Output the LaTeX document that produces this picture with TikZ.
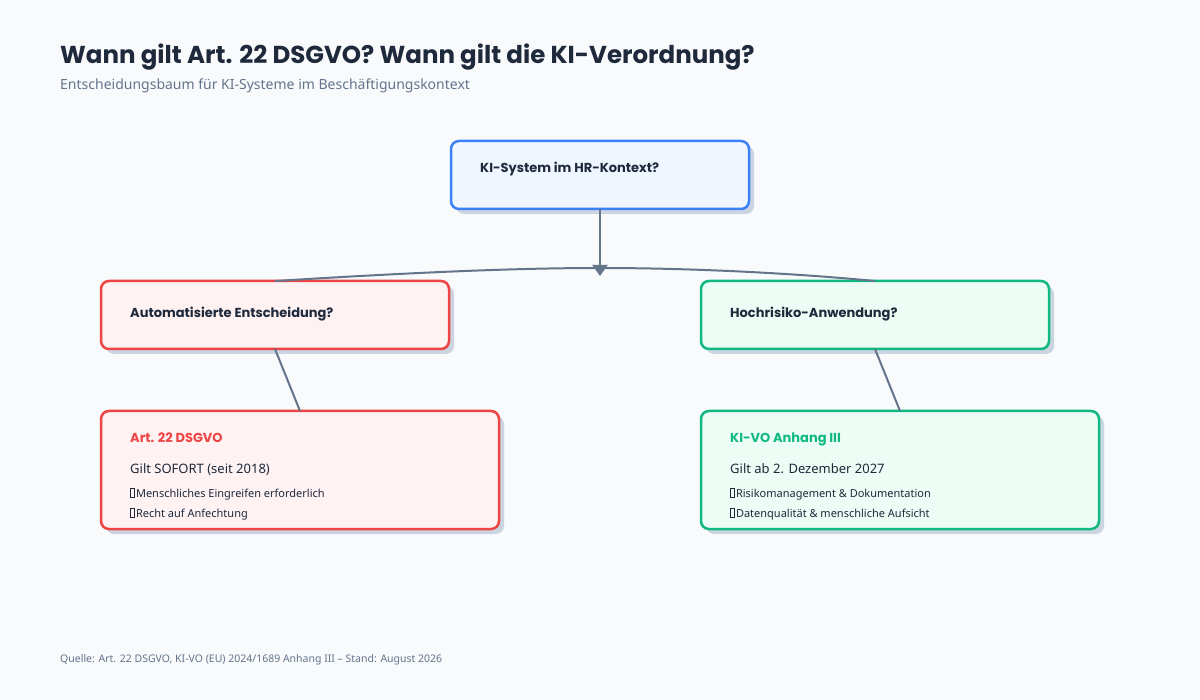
\documentclass[tikz,border=0pt]{standalone}
\usepackage{fontspec}
\setmainfont{Noto Sans}[BoldFeatures={FakeBold=1.5}]
\newfontfamily\headf{Poppins}
\usetikzlibrary{arrows.meta}
\definecolor{bg}{HTML}{F8FAFC}
\definecolor{ink}{HTML}{1E293B}
\definecolor{mut}{HTML}{64748B}
\definecolor{shd}{HTML}{CBD5E1}
\definecolor{blu}{HTML}{3B82F6}\definecolor{bluf}{HTML}{EFF6FF}
\definecolor{red}{HTML}{EF4444}\definecolor{redf}{HTML}{FEF2F2}
\definecolor{grn}{HTML}{10B981}\definecolor{grnf}{HTML}{ECFDF5}
\newcommand{\tofu}{\tikz[baseline=0pt,x=1pt,y=1pt]\draw[line width=0.5pt,ink] (0,-0.5) rectangle (3.5,8.5);\,}
\begin{document}
\begin{tikzpicture}[x=1pt,y=-1pt,
 box/.style={rounded corners=8pt,line width=2.5pt},
 conn/.style={draw=mut,line width=2pt},
 lbl/.style={anchor=base west,inner sep=0pt,text=ink}]
\fill[bg] (0,0) rectangle (1200,700);
\useasboundingbox (0,0) rectangle (1200,700);
\node[lbl,font=\headf\bfseries\fontsize{24.5}{28}\selectfont] (title) at (60,64) {Wann gilt Art. 22 DSGVO? Wann gilt die KI-Verordnung?};
\node[lbl,text=mut,font=\bfseries\fontsize{14}{16}\selectfont] (sub) at (60,90) {Entscheidungsbaum für KI-Systeme im Beschäftigungskontext};
\node[lbl,text=mut,font=\fontsize{10.5}{12}\selectfont] (foot) at (60,662) {Quelle: Art. 22 DSGVO, KI-VO (EU) 2024/1689 Anhang III – Stand: August 2026};
% shadows
\foreach \a/\b/\c/\d in {451/141/749/209,101/281/449/349,701/281/1049/349,101/411/499/529,701/411/1099/529}
  \fill[shd,rounded corners=8pt] (\a+5,\b+5) rectangle (\c+5,\d+5);
\draw[box,draw=blu,fill=bluf] (451,141) rectangle (749,209);
\draw[box,draw=red,fill=redf] (101,281) rectangle (449,349);
\draw[box,draw=grn,fill=grnf] (701,281) rectangle (1049,349);
\draw[box,draw=red,fill=redf] (101,411) rectangle (499,529);
\draw[box,draw=grn,fill=grnf] (701,411) rectangle (1099,529);
\coordinate (topb) at (600,209);
\coordinate (fork) at (600,276);
\coordinate (lq) at (275,281);\coordinate (lqb) at (275,349);
\coordinate (rq) at (875,281);\coordinate (rqb) at (875,349);
\coordinate (lr) at (300,411);\coordinate (rr) at (900,411);
\draw[conn,-{Triangle[length=11pt,width=15pt]}] (topb) -- (fork);
\draw[conn] (lq) .. controls (420,272) and (520,268) .. (600,268) .. controls (680,268) and (780,272) .. (rq);
\draw[conn] (lqb) -- (lr);
\draw[conn] (rqb) -- (rr);
\tikzset{h/.style={lbl,font=\headf\bfseries\fontsize{13}{15}\selectfont}}
\node[h] (t0) at (480,173) {KI-System im HR-Kontext?};
\node[h] (t1) at (130,318) {Automatisierte Entscheidung?};
\node[h] (t2) at (730,318) {Hochrisiko-Anwendung?};
\node[h,text=red] (t3) at (130,443) {Art. 22 DSGVO};
\node[h,text=grn] (t4) at (730,443) {KI-VO Anhang III};
\tikzset{g/.style={lbl,font=\fontsize{13}{15}\selectfont},b/.style={lbl,font=\fontsize{11}{13}\selectfont}}
\node[g] (g1) at (130,474) {Gilt SOFORT (seit 2018)};
\node[g] (g2) at (730,474) {Gilt ab 2. Dezember 2027};
\node[b] (b1) at (130,497) {\tofu Menschliches Eingreifen erforderlich};
\node[b] (b2) at (130,517) {\tofu Recht auf Anfechtung};
\node[b] (b3) at (730,497) {\tofu Risikomanagement \& Dokumentation};
\node[b] (b4) at (730,517) {\tofu Datenqualität \& menschliche Aufsicht};
\end{tikzpicture}
\end{document}
